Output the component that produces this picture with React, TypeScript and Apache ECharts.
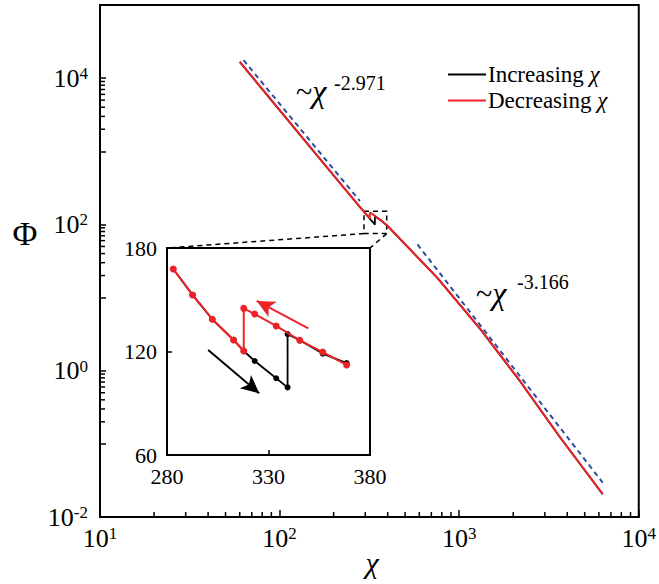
import React, { useEffect, useRef } from 'react';
import * as echarts from 'echarts';

const FONT = 'Liberation Serif';

// ---- main curves (chi, Phi) ----
const preLoopChi = [60, 100, 200];
const preLoopPhi = [16700, 3660, 467];
const postLoopChi = [400, 756, 1312, 2182, 3628, 6300];
const postLoopPhi = [95, 18.6, 3.7, 0.72, 0.125, 0.0205];

// ---- inset: hysteresis loop ----
const incChi = [283.1, 292.6, 302.3, 312.8, 317.8, 323.2, 333.8, 339.4, 339.4, 345.4, 356.7, 368.5];
const incPhi = [167.8, 152.8, 138.7, 126.7, 120.3, 114.5, 104.5, 99.2, 130.1, 126.5, 118.8, 113.3];
const decChi = [368.5, 356.7, 345.4, 333.8, 323.2, 317.8, 317.8, 312.8, 302.3, 292.6, 283.1];
const decPhi = [112.2, 119.7, 126.5, 134.8, 141.7, 145.0, 120.3, 126.7, 138.7, 152.8, 167.8];

// ---- power-law guide lines ----
const fit1Chi = [63, 280];
const fit1Phi = [17600, 209];
const fit2Chi = [586, 6300];
const fit2Phi = [53.2, 0.0295];
const fit1Label = ['~', 'χ', '-2.971'];
const fit2Label = ['~', 'χ', '-3.166'];

// ---- inset arrows ----
const redArrowChi = [349.6, 324.2];
const redArrowPhi = [133.4, 149.3];
const blackArrowChi = [300.3, 325.4];
const blackArrowPhi = [120.9, 95.8];

// ---- zoom box ----
const zoomBoxChi = [295, 395];
const zoomBoxPhi = [75, 151];

// ---- axes ----
const xRange = [10, 10000];
const yRange = [0.01, 100000];
const xMinorTicks = [20, 30, 40, 50, 60, 70, 80, 90, 200, 300, 400, 500, 600, 700, 800, 900, 2000, 3000, 4000, 5000, 6000, 7000, 8000, 9000];
const yMinorTicks = [2000, 3000, 4000, 5000, 6000, 7000, 8000, 9000, 20, 30, 40, 50, 60, 70, 80, 90, 0.2, 0.3, 0.4, 0.5, 0.6, 0.7, 0.8, 0.9];
const yLabelledExponents = [-2, 0, 2, 4];
const insetXRange = [280, 380];
const insetYRange = [60, 180];
const seriesNames = ['Increasing χ', 'Decreasing χ'];

const RED = '#EC2227';
const BLUE = '#2F4B9E';

const zip = (a: number[], b: number[]) => a.map((v, i) => [v, b[i]]);

export default function App() {
  const ref = useRef<HTMLDivElement>(null);
  useEffect(() => {
    const chart = echarts.init(ref.current!, null, { renderer: 'svg' });
    const richAxis = {
      b: { fontFamily: FONT, fontSize: 26, color: '#000' },
      s: { fontFamily: FONT, fontSize: 17, color: '#000', verticalAlign: 'top' },
    };
    const incMain = [...zip(preLoopChi, preLoopPhi), ...zip(incChi, incPhi), ...zip(postLoopChi, postLoopPhi)];
    const decMain = [
      ...zip(postLoopChi, postLoopPhi).reverse(),
      ...zip(decChi, decPhi),
      ...zip(preLoopChi, preLoopPhi).reverse(),
    ];
    const option: any = {
      animation: false,
      backgroundColor: '#fff',
      textStyle: { fontFamily: FONT },
      grid: [
        { left: 100, top: 5, right: 16, bottom: 67, show: true, borderColor: '#000', borderWidth: 2, backgroundColor: 'transparent' },
        { left: 167, top: 248, width: 203, height: 207, show: true, borderColor: '#000', borderWidth: 2, backgroundColor: '#fff', z: 5 },
      ],
      xAxis: [
        {
          type: 'log', gridIndex: 0, min: xRange[0], max: xRange[1], logBase: 10,
          axisLine: { show: true, lineStyle: { color: '#000', width: 2 } },
          axisTick: { show: true, inside: true, length: 7, lineStyle: { color: '#000', width: 1.5 } },
          splitLine: { show: false },
          axisLabel: {
            margin: 8, color: '#000', fontFamily: FONT,
            formatter: (v: number) => `{b|10}{s|${Math.round(Math.log10(v))}}`,
            rich: richAxis,
          },
        },
        {
          type: 'value', gridIndex: 1, min: insetXRange[0], max: insetXRange[1], interval: 50,
          axisLine: { show: true, lineStyle: { color: '#000', width: 2 } },
          axisTick: { show: true, inside: true, length: 5, lineStyle: { color: '#000', width: 1.5 } },
          splitLine: { show: false },
          axisLabel: { margin: 10, color: '#000', fontFamily: FONT, fontSize: 22 },
          z: 6,
        },
      ],
      yAxis: [
        {
          type: 'log', gridIndex: 0, min: yRange[0], max: yRange[1], logBase: 10,
          axisLine: { show: true, lineStyle: { color: '#000', width: 2 } },
          axisTick: { show: true, inside: true, length: 6, lineStyle: { color: '#000', width: 1.5 } },
          splitLine: { show: false },
          axisLabel: {
            margin: 12, color: '#000', fontFamily: FONT,
            formatter: (v: number) => {
              const e = Math.round(Math.log10(v));
              return yLabelledExponents.includes(e) ? `{b|10}{s|${e}}` : '';
            },
            rich: richAxis,
          },
        },
        {
          type: 'value', gridIndex: 1, min: insetYRange[0], max: insetYRange[1], interval: 60,
          axisLine: { show: true, lineStyle: { color: '#000', width: 2 } },
          axisTick: { show: true, inside: true, length: 5, lineStyle: { color: '#000', width: 1.5 } },
          splitLine: { show: false },
          axisLabel: { margin: 10, color: '#000', fontFamily: FONT, fontSize: 22 },
          z: 6,
        },
      ],
      legend: {
        data: seriesNames,
        orient: 'vertical', left: 443, top: 58,
        icon: 'rect', itemWidth: 38, itemHeight: 2, itemGap: 3,
        textStyle: {
          fontFamily: FONT, fontSize: 23, color: '#000', padding: [0, 0, 0, -3],
          rich: { i: { fontFamily: FONT, fontSize: 23, fontStyle: 'italic', color: '#000' } },
        },
        formatter: (name: string) => name.replace('χ', '{i|χ}'),
      },
      series: [
        {
          name: seriesNames[0], type: 'line', xAxisIndex: 0, yAxisIndex: 0,
          data: incMain, symbol: 'none', lineStyle: { color: '#000', width: 1.8 }, itemStyle: { color: '#000' }, z: 3,
          markArea: {
            silent: true,
            itemStyle: { color: 'rgba(0,0,0,0)', borderColor: '#000', borderWidth: 1.5, borderType: [5, 4] },
            data: [[{ coord: [zoomBoxChi[0], zoomBoxPhi[1]] }, { coord: [zoomBoxChi[1], zoomBoxPhi[0]] }]],
          },
        },
        {
          name: seriesNames[1], type: 'line', xAxisIndex: 0, yAxisIndex: 0,
          data: decMain, symbol: 'none', lineStyle: { color: RED, width: 2 }, itemStyle: { color: RED }, z: 4,
        },
        {
          name: 'fit1', type: 'line', xAxisIndex: 0, yAxisIndex: 0, data: zip(fit1Chi, fit1Phi),
          symbol: 'none', lineStyle: { color: BLUE, width: 2, type: [5, 4] }, z: 2,
        },
        {
          name: 'fit2', type: 'line', xAxisIndex: 0, yAxisIndex: 0, data: zip(fit2Chi, fit2Phi),
          symbol: 'none', lineStyle: { color: BLUE, width: 2, type: [5, 4] }, z: 2,
        },
        {
          name: 'xminor', type: 'custom', xAxisIndex: 0, yAxisIndex: 0, silent: true, clip: false,
          data: xMinorTicks.map((v) => [v, yRange[0]]),
          renderItem: (_p: any, api: any) => {
            const p = api.coord([api.value(0), api.value(1)]);
            return { type: 'line', shape: { x1: p[0], y1: p[1], x2: p[0], y2: p[1] - 5 }, style: { stroke: '#000', lineWidth: 1.5 } };
          },
          z: 6,
        },
        {
          name: 'yminor', type: 'custom', xAxisIndex: 0, yAxisIndex: 0, silent: true, clip: false,
          data: yMinorTicks.map((v) => [xRange[0], v]),
          renderItem: (_p: any, api: any) => {
            const p = api.coord([api.value(0), api.value(1)]);
            return { type: 'line', shape: { x1: p[0], y1: p[1], x2: p[0] + 5, y2: p[1] }, style: { stroke: '#000', lineWidth: 1.5 } };
          },
          z: 6,
        },
        {
          name: 'insetInc', type: 'line', xAxisIndex: 1, yAxisIndex: 1, data: zip(incChi, incPhi),
          symbol: 'circle', symbolSize: 6, showAllSymbol: true,
          lineStyle: { color: '#000', width: 1.8 }, itemStyle: { color: '#000' }, z: 7,
          markLine: {
            silent: true, symbol: ['none', 'arrow'], symbolSize: [13, 18],
            label: { show: false },
            lineStyle: { color: '#000', width: 2, type: 'solid' },
            data: [[{ coord: [blackArrowChi[0], blackArrowPhi[0]] }, { coord: [blackArrowChi[1], blackArrowPhi[1]] }]],
          },
        },
        {
          name: 'insetDec', type: 'line', xAxisIndex: 1, yAxisIndex: 1, data: zip(decChi, decPhi),
          symbol: 'circle', symbolSize: 7, showAllSymbol: true,
          lineStyle: { color: RED, width: 2 }, itemStyle: { color: RED }, z: 8,
          markLine: {
            silent: true, symbol: ['none', 'arrow'], symbolSize: [13, 18],
            label: { show: false },
            lineStyle: { color: RED, width: 2, type: 'solid' },
            data: [[{ coord: [redArrowChi[0], redArrowPhi[0]] }, { coord: [redArrowChi[1], redArrowPhi[1]] }]],
          },
        },
      ],
      graphic: [
        {
          id: 'fit1a', type: 'text', x: 296, y: 91, z: 20,
          style: {
            text: `{n|${fit1Label[0]}}{i|${fit1Label[1]}}`, align: 'left', verticalAlign: 'middle',
            rich: { n: { fontFamily: FONT, fontSize: 30, fill: '#000' }, i: { fontFamily: FONT, fontSize: 32, fontStyle: 'italic', fill: '#000' } },
          },
        },
        {
          id: 'fit1b', type: 'text', x: 334, y: 83, z: 20,
          style: { text: fit1Label[2], fontFamily: FONT, fontSize: 20, fill: '#000', align: 'left', verticalAlign: 'middle' },
        },
        {
          id: 'fit2a', type: 'text', x: 476, y: 293, z: 20,
          style: {
            text: `{n|${fit2Label[0]}}{i|${fit2Label[1]}}`, align: 'left', verticalAlign: 'middle',
            rich: { n: { fontFamily: FONT, fontSize: 30, fill: '#000' }, i: { fontFamily: FONT, fontSize: 32, fontStyle: 'italic', fill: '#000' } },
          },
        },
        {
          id: 'fit2b', type: 'text', x: 517, y: 282, z: 20,
          style: { text: fit2Label[2], fontFamily: FONT, fontSize: 20, fill: '#000', align: 'left', verticalAlign: 'middle' },
        },
        {
          id: 'xtitle', type: 'text', x: 372, y: 562, z: 20,
          style: { text: 'χ', fontFamily: FONT, fontSize: 30, fontStyle: 'italic', fill: '#000', align: 'center', verticalAlign: 'middle' },
        },
        {
          id: 'ytitle', type: 'text', x: 25, y: 233, z: 20,
          style: { text: 'Φ', fontFamily: FONT, fontSize: 34, fill: '#000', align: 'center', verticalAlign: 'middle' },
        },
      ],
    };
    chart.setOption(option);
    const b0 = chart.convertToPixel({ xAxisIndex: 0, yAxisIndex: 0 }, [zoomBoxChi[0], zoomBoxPhi[0]]) as number[];
    const b1 = chart.convertToPixel({ xAxisIndex: 0, yAxisIndex: 0 }, [zoomBoxChi[1], zoomBoxPhi[0]]) as number[];
    const i0 = chart.convertToPixel({ xAxisIndex: 1, yAxisIndex: 1 }, [insetXRange[0], insetYRange[1]]) as number[];
    const i1 = chart.convertToPixel({ xAxisIndex: 1, yAxisIndex: 1 }, [insetXRange[1], insetYRange[1]]) as number[];
    const dashed = { stroke: '#000', lineWidth: 1.5, lineDash: [5, 4] };
    chart.setOption({
      graphic: [
        ...option.graphic,
        { id: 'con1', type: 'line', z: 15, shape: { x1: b0[0], y1: b0[1], x2: i0[0], y2: i0[1] }, style: dashed },
        { id: 'con2', type: 'line', z: 15, shape: { x1: b1[0], y1: b1[1], x2: i1[0], y2: i1[1] }, style: dashed },
      ],
    });
    return () => chart.dispose();
  }, []);
  return (
    <div
      ref={ref}
      style={{ position: 'fixed', left: 0, top: 0, width: 659, height: 584, background: '#fff' }}
    />
  );
}
